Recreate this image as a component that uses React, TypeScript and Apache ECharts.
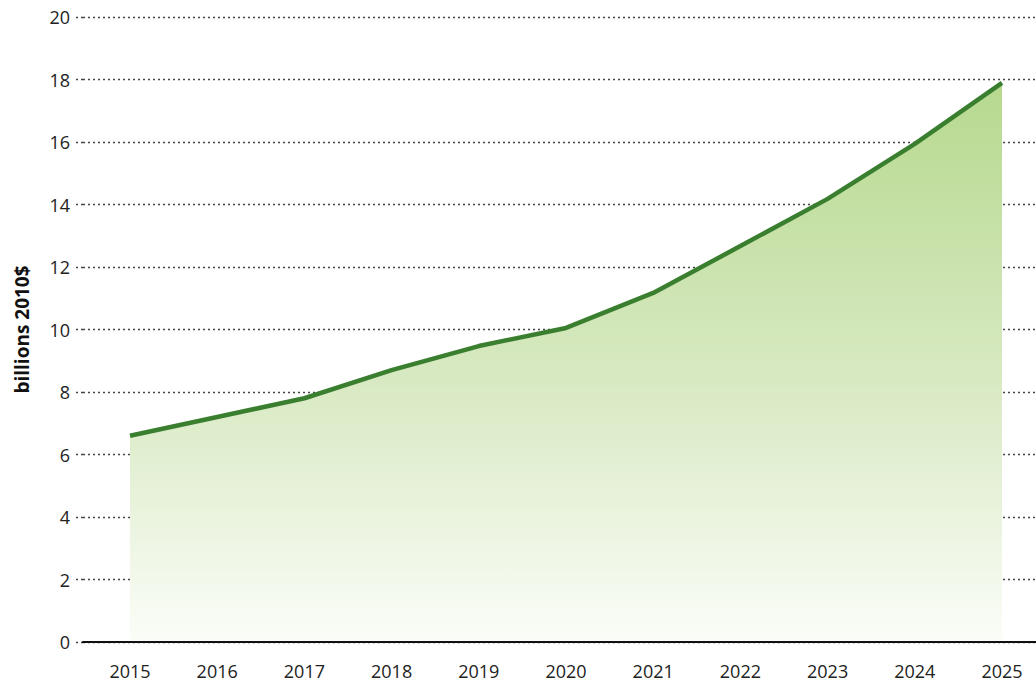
import React, { useEffect, useRef } from "react";
import * as echarts from "echarts";

const years = [2015, 2016, 2017, 2018, 2019, 2020, 2021, 2022, 2023, 2024, 2025];
const values = [6.6, 7.2, 7.8, 8.7, 9.47, 10.05, 11.17, 12.67, 14.18, 15.94, 17.89];
const yTicks = [0, 2, 4, 6, 8, 10, 12, 14, 16, 18, 20];
const yAxisTitle = "billions 2010$";

export default function App() {
  const ref = useRef<HTMLDivElement>(null);
  useEffect(() => {
    if (!ref.current) return;
    const chart = echarts.init(ref.current, null, { renderer: "svg" });
    const font = "'Open Sans', sans-serif";
    chart.setOption({
      animation: false,
      backgroundColor: "#ffffff",
      grid: { left: 83, right: 0, top: 17, bottom: 42, containLabel: false },
      xAxis: {
        type: "value",
        min: 2014.461,
        max: 2025.39,
        z: 10,
        splitLine: { show: false },
        axisTick: { show: false },
        axisLine: { show: true, onZero: false, lineStyle: { color: "#111", width: 2.2 } },
        axisLabel: {
          customValues: years,
          formatter: (v: number) => String(Math.round(v)),
          color: "#222",
          fontSize: 18,
          fontFamily: font,
          margin: 20,
        },
      },
      yAxis: {
        type: "value",
        min: 0,
        max: 20,
        interval: 2,
        name: yAxisTitle,
        nameLocation: "middle",
        nameGap: 52,
        nameRotate: 90,
        nameTextStyle: { fontSize: 19, fontWeight: "bold", color: "#111", fontFamily: font },
        axisLine: { show: false },
        axisTick: { show: true, length: 7, lineStyle: { color: "#444", type: [2, 3], width: 1.4 } },
        axisLabel: {
          customValues: yTicks,
          color: "#222",
          fontSize: 18,
          fontFamily: font,
          margin: 13,
        },
        splitLine: { show: true, lineStyle: { color: "#444", type: [2, 3], width: 1.4 } },
      },
      series: [
        {
          type: "line",
          data: years.map((y, i) => [y, values[i]]),
          symbol: "none",
          lineStyle: { color: "#3a7f2f", width: 4.5 },
          areaStyle: {
            opacity: 1,
            color: new echarts.graphic.LinearGradient(0, 0, 0, 1, [
              { offset: 0, color: "#b6d98e" },
              { offset: 0.55, color: "#d9eac4" },
              { offset: 1, color: "#fbfdf8" },
            ]),
          },
          z: 3,
        },
      ],
    });
    return () => chart.dispose();
  }, []);
  return (
    <div
      ref={ref}
      style={{ position: "fixed", left: 0, top: 0, width: 1036, height: 684 }}
    />
  );
}
